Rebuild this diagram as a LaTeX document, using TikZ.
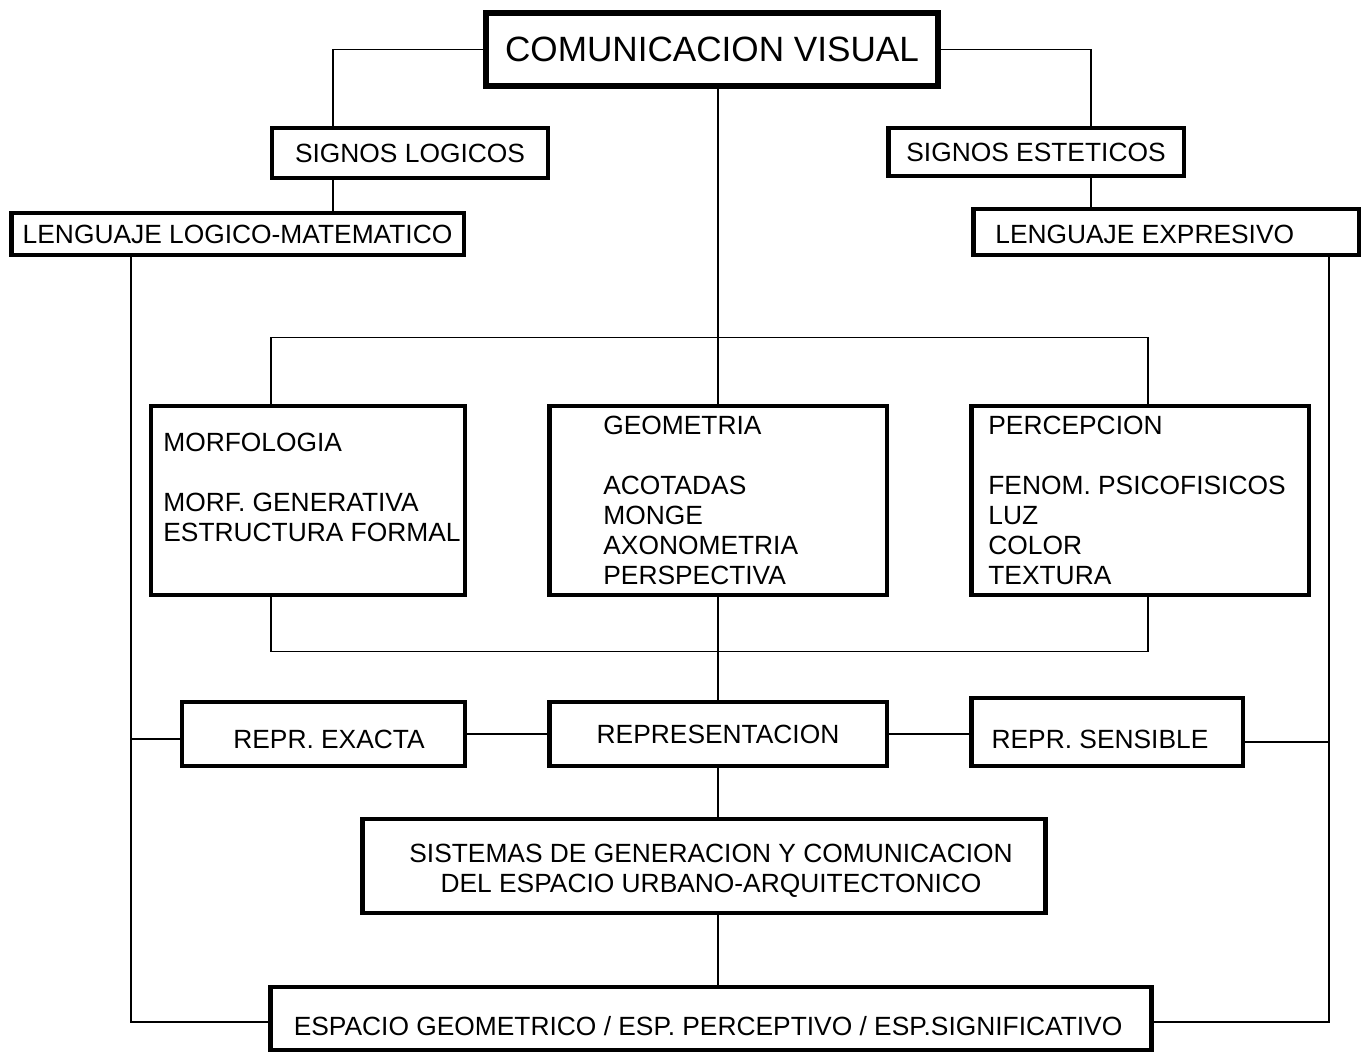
\documentclass[tikz,border=0pt]{standalone}
\usepackage{fontspec}
\setmainfont{Liberation Sans}
\usepackage{tikz}

\begin{document}
\begin{tikzpicture}[x=0.02cm,y=-0.02cm,
	box/.style={draw,line width=2.8pt,inner sep=0pt,font=\fontsize{15}{17}\selectfont},
	txt/.style={inner sep=0pt,font=\fontsize{15}{17}\selectfont},
	lst/.style={anchor=north west,inner sep=0pt,align=left,font=\fontsize{15}{17}\selectfont},
	link/.style={line width=0.8pt}]
	\useasboundingbox (0,0) rectangle (1364,1054);
	\node[box,line width=3.2pt,minimum width=9.04cm,minimum height=1.46cm,font=\fontsize{20}{24}\selectfont] (comvis) at (712,49.5) {COMUNICACION VISUAL};
	\node[box,minimum width=5.52cm,minimum height=1cm] (siglog) at (410,153) {SIGNOS LOGICOS};
	\node[box,minimum width=5.92cm,minimum height=0.96cm] (sigest) at (1036,152) {SIGNOS ESTETICOS};
	\node[box,minimum width=9.06cm,minimum height=0.84cm] (lenlog) at (237.5,234) {LENGUAJE LOGICO-MATEMATICO};
	\node[box,minimum width=7.72cm,minimum height=0.92cm] (lenexp) at (1166,232) {};
	\node[txt,anchor=west] (lenexptxt) at (995,234) {LENGUAJE EXPRESIVO};
	
	\node[box,minimum width=6.28cm,minimum height=3.78cm] (morf) at (308,500.5) {};
	\node[box,minimum width=6.76cm,minimum height=3.78cm] (geom) at (718,500.5) {};
	\node[box,minimum width=6.76cm,minimum height=3.78cm] (perc) at (1140,500.5) {};
	\node[lst] (morftxt) at (163,433) {MORFOLOGIA\\[17pt]MORF. GENERATIVA\\ESTRUCTURA FORMAL};
	\node[lst] (geomtxt) at (603,416) {GEOMETRIA\\[17pt]ACOTADAS\\MONGE\\AXONOMETRIA\\PERSPECTIVA};
	\node[lst] (perctxt) at (988,416) {PERCEPCION\\[17pt]FENOM. PSICOFISICOS\\LUZ\\COLOR\\TEXTURA};
	
	\node[box,minimum width=5.66cm,minimum height=1.28cm] (rexacta) at (323.5,734) {};
	\node[txt] (rexactatxt) at (329,739.5) {REPR. EXACTA};
	\node[box,minimum width=6.76cm,minimum height=1.28cm] (repr) at (718,734) {REPRESENTACION};
	\node[box,minimum width=5.44cm,minimum height=1.36cm] (rsens) at (1107,732) {};
	\node[txt] (rsenstxt) at (1100,739) {REPR. SENSIBLE};
	\node[box,minimum width=13.68cm,minimum height=1.88cm] (sist) at (704,866) {};
	\node[txt,align=center] (sisttxt) at (711,871) {SISTEMAS DE GENERACION Y COMUNICACION\\DEL ESPACIO URBANO-ARQUITECTONICO};
	\node[box,minimum width=17.64cm,minimum height=1.26cm] (esp) at (711,1018.5) {};
	\node[txt] (esptxt) at (708,1026.5) {ESPACIO GEOMETRICO / ESP. PERCEPTIVO / ESP.SIGNIFICATIVO};
	
	\coordinate (ljoin) at ([xshift=-1.54cm]siglog.north);
	\coordinate (rjoin) at ([xshift=1.1cm]sigest.north);
	\draw[link] (comvis.west) -| (ljoin);
	\draw[link] (comvis.east) -| (rjoin);
	\draw[link] (ljoin |- siglog.south) -- (ljoin |- lenlog.north);
	\draw[link] (rjoin |- sigest.south) -- (rjoin |- lenexp.north);
	\draw[link] (comvis.south -| geom.north) -- (geom.north);
	\draw[link] ([xshift=-0.74cm]morf.north) -- ++(0,-66) -| ([xshift=0.16cm]perc.north);
	\draw[link] ([xshift=-0.74cm]morf.south) -- ++(0,54) -| ([xshift=0.16cm]perc.south);
	\draw[link] (geom.south) -- (repr.north);
	\draw[link] (repr.south) -- (repr.south |- sist.north);
	\draw[link] (repr.south |- sist.south) -- (repr.south |- esp.north);
	
	\coordinate (lrail) at ([xshift=-2.13cm]lenlog.south);
	\coordinate (rrail) at ([xshift=3.26cm]lenexp.south);
	\draw[link] (lrail) |- ([yshift=-0.07cm]esp.west);
	\draw[link] (rrail) |- ([yshift=-0.07cm]esp.east);
	\draw[link] ([yshift=-0.1cm]rexacta.west) -- ([yshift=-0.1cm]rexacta.west -| lrail);
	\draw[link] ([yshift=-0.2cm]rsens.east) -- ([yshift=-0.2cm]rsens.east -| rrail);
	\draw[link] (rexacta.east) -- (repr.west);
	\draw[link] (repr.east) -- (repr.east -| rsens.west);
\end{tikzpicture}
\end{document}
